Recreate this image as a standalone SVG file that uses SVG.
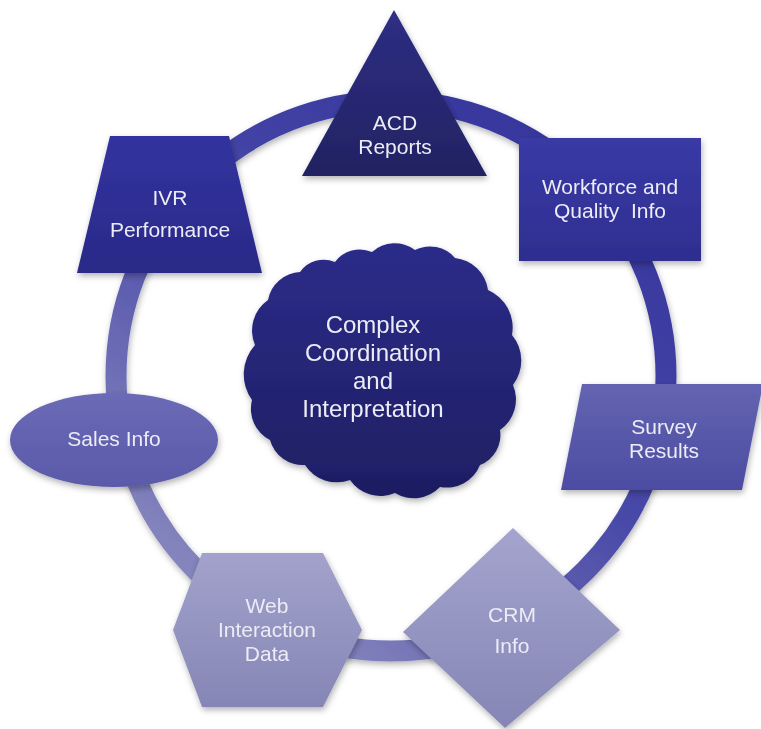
<svg xmlns="http://www.w3.org/2000/svg" width="761" height="729" viewBox="0 0 761 729">
<defs>
<linearGradient id="ringG" gradientUnits="userSpaceOnUse" x1="600" y1="120" x2="200" y2="660">
<stop offset="0" stop-color="#33339c"/>
<stop offset="0.45" stop-color="#4848a8"/>
<stop offset="1" stop-color="#9292c2"/>
</linearGradient>
<linearGradient id="gAcd" x1="0" y1="0" x2="0" y2="1"><stop offset="0" stop-color="#2e2e84"/><stop offset="1" stop-color="#222262"/></linearGradient>
<linearGradient id="gIvr" x1="0" y1="0" x2="0" y2="1"><stop offset="0" stop-color="#3232a0"/><stop offset="1" stop-color="#2a2a88"/></linearGradient>
<linearGradient id="gWf" x1="0" y1="0" x2="0" y2="1"><stop offset="0" stop-color="#3a3aa6"/><stop offset="1" stop-color="#2e2e90"/></linearGradient>
<linearGradient id="gSv" x1="0" y1="0" x2="0" y2="1"><stop offset="0" stop-color="#6464b2"/><stop offset="1" stop-color="#4c4ca2"/></linearGradient>
<linearGradient id="gSl" x1="0" y1="0" x2="0" y2="1"><stop offset="0" stop-color="#6a6ab6"/><stop offset="1" stop-color="#5a5aaa"/></linearGradient>
<linearGradient id="gWeb" x1="0" y1="0" x2="0" y2="1"><stop offset="0" stop-color="#a2a2cc"/><stop offset="1" stop-color="#8686b6"/></linearGradient>
<linearGradient id="gCrm" x1="0" y1="0" x2="0" y2="1"><stop offset="0" stop-color="#a4a4ce"/><stop offset="1" stop-color="#8686b6"/></linearGradient>
<linearGradient id="gCl" x1="0" y1="0" x2="0" y2="1"><stop offset="0" stop-color="#2c2c8a"/><stop offset="1" stop-color="#1e1e62"/></linearGradient>
<filter id="sh" x="-20%" y="-20%" width="140%" height="150%">
<feDropShadow dx="1" dy="3" stdDeviation="3" flood-color="#000" flood-opacity="0.3"/>
</filter>
</defs>
<style>
text{font-family:"Liberation Sans",Arial,sans-serif;font-size:21px;fill:#ececf6;text-anchor:middle;}
.big{font-size:24px;}
</style>
<rect width="761" height="729" fill="#ffffff"/>
<g id="connectors">
<circle cx="391" cy="376" r="275" fill="none" stroke="url(#ringG)" stroke-width="21" filter="url(#sh)"/>
</g>
<g id="cloud" filter="url(#sh)">
<path fill="url(#gCl)" d="M268,300 A34,34 0 0 1 300,272 A29,29 0 0 1 335,262 A31,31 0 0 1 372,252 A34,34 0 0 1 415,250 A33,33 0 0 1 455,258 A37,37 0 0 1 488,290 A41,41 0 0 1 512,335 A40,40 0 0 1 513,385 A37,37 0 0 1 500,430 A32,32 0 0 1 480,465 A36,36 0 0 1 440,487 A36,36 0 0 1 395,493 A37,37 0 0 1 350,480 A38,38 0 0 1 305,465 A34,34 0 0 1 270,440 A35,35 0 0 1 252,400 A44,44 0 0 1 255,345 A37,37 0 0 1 268,300 Z"/>
<text class="big" x="373" y="333">Complex</text>
<text class="big" x="373" y="361">Coordination</text>
<text class="big" x="373" y="389">and</text>
<text class="big" x="373" y="417">Interpretation</text>
</g>
<g id="acd" filter="url(#sh)">
<polygon points="394,10 302,176 487,176" fill="url(#gAcd)"/>
<text x="395" y="130">ACD</text>
<text x="395" y="154">Reports</text>
</g>
<g id="ivr" filter="url(#sh)">
<polygon points="110,136 229,136 262,273 77,273" fill="url(#gIvr)"/>
<text x="170" y="205">IVR</text>
<text x="170" y="237">Performance</text>
</g>
<g id="workforce" filter="url(#sh)">
<rect x="519" y="138" width="182" height="123" fill="url(#gWf)"/>
<text x="610" y="194">Workforce and</text>
<text x="610" y="218" xml:space="preserve">Quality  Info</text>
</g>
<g id="survey" filter="url(#sh)">
<polygon points="582,384 763,384 742,490 561,490" fill="url(#gSv)"/>
<text x="664" y="434">Survey</text>
<text x="664" y="458">Results</text>
</g>
<g id="crm" filter="url(#sh)">
<polygon points="513,528 620,630 505,728 403,632" fill="url(#gCrm)"/>
<text x="512" y="622">CRM</text>
<text x="512" y="653">Info</text>
</g>
<g id="web" filter="url(#sh)">
<polygon points="202,553 323,553 362,630 323,707 202,707 173,630" fill="url(#gWeb)"/>
<text x="267" y="613">Web</text>
<text x="267" y="637">Interaction</text>
<text x="267" y="661">Data</text>
</g>
<g id="sales" filter="url(#sh)">
<ellipse cx="114" cy="440" rx="104" ry="47" fill="url(#gSl)"/>
<text x="114" y="446">Sales Info</text>
</g>
</svg>
